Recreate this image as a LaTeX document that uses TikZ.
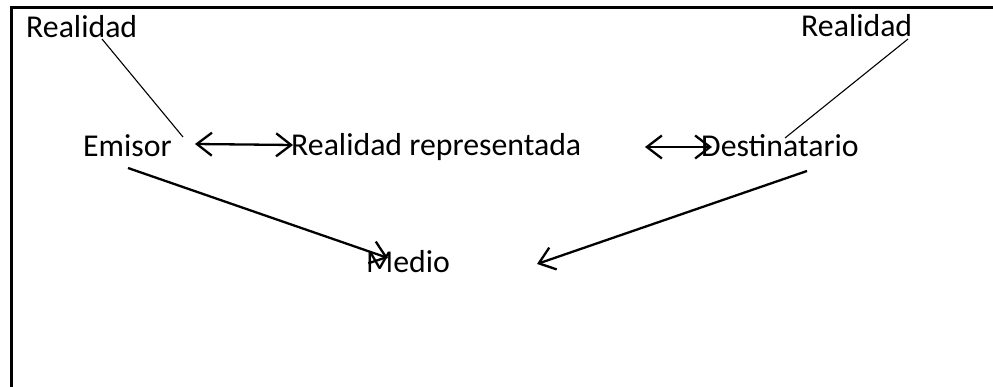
\documentclass[tikz,border=0pt]{standalone}
\usepackage{fontspec}
\setmainfont{Carlito}
\usetikzlibrary{arrows.meta}
\begin{document}
\begin{tikzpicture}[x=1pt,y=-1pt,
  lbl/.style={anchor=base west,inner sep=0pt,font=\fontsize{31.8}{38}\selectfont},
  thinlink/.style={line width=1.1pt},
  barb/.tip={Straight Barb[length=15pt,width=23pt,line width=2.3pt]},
  arr/.style={line width=2.3pt,-barb},
  darr/.style={line width=2.3pt,barb-barb}]
\useasboundingbox (0,0) rectangle (993,387);
\draw[line width=3pt] (11,388) -- (11,7.5) -- (994,7.5);
% texts
\node[lbl] (r1) at (26,38) {Realidad};
\node[lbl] (emisor) at (83,157) {Emisor};
\node[lbl] (rr) at (291,156) {Realidad representada};
\node[lbl] (dest) at (701,157) {Destinatario};
\node[lbl] (r2) at (801,37) {Realidad};
\node[lbl] (medio) at (366,273) {Medio};
% connector end points
\coordinate (r1a) at (102,39);
\coordinate (e1) at (183,137);
\coordinate (r2a) at (908,39);
\coordinate (d1) at (785,138);
\coordinate (a1l) at (195,144);
\coordinate (a1r) at (293,145);
\coordinate (a2l) at (645,147);
\coordinate (a2r) at (712,147);
\coordinate (em1) at (128,168);
\coordinate (me1) at (388,258);
\coordinate (de1) at (807,171);
\coordinate (me2) at (537,264);
% connectors
\draw[thinlink] (r1a) -- (e1);
\draw[thinlink] (r2a) -- (d1);
\draw[darr] (a1l) -- (a1r);
\draw[darr] (a2l) -- (a2r);
\draw[arr] (em1) -- (me1);
\draw[arr] (de1) -- (me2);
\end{tikzpicture}
\end{document}
